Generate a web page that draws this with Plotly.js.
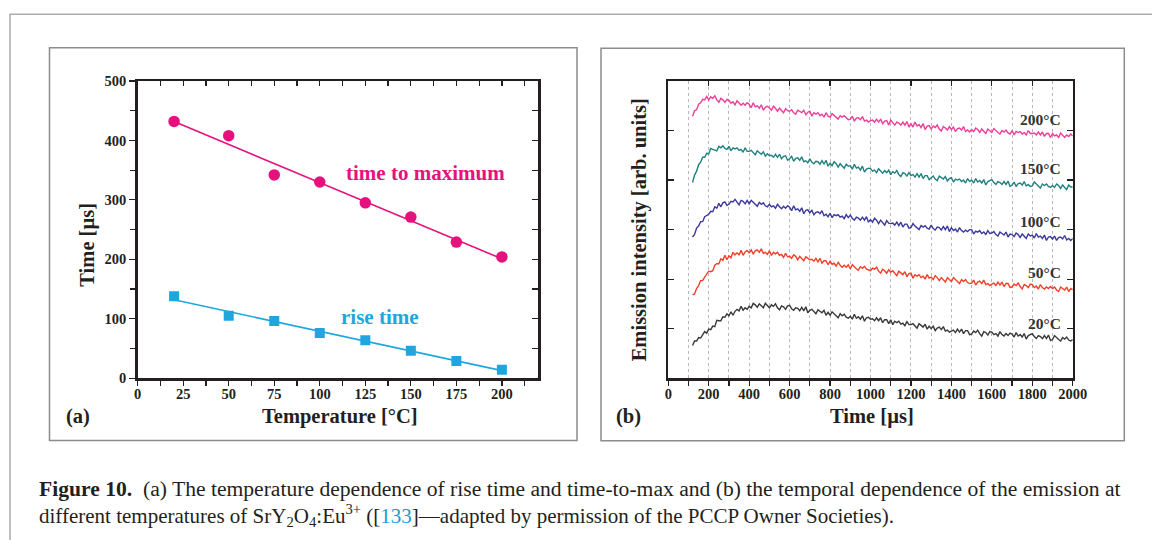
<!DOCTYPE html>
<html>
<head>
<meta charset="utf-8">
<script src="https://cdn.plot.ly/plotly-3.0.1.min.js"></script>
<style>
  html, body { margin: 0; padding: 0; background: #ffffff; }
  #fig { width: 1152px; height: 540px; }
</style>
</head>
<body>
<div id="fig"></div>
<script>
// ---------- (a) characteristic times versus temperature ----------
const temperatureC = [20, 50, 75, 100, 125, 150, 175, 200];
const timeToMaxUs  = [432, 408, 342, 330, 295, 271, 229, 204];
const riseTimeUs   = [138, 105, 96, 76, 64, 46, 29, 14];

// ---------- (b) emission transients, sampled every 10 µs from 120 µs ----------
const traceStartUs = 120;
const traceStepUs  = 10;

const emission20C = [
  0.66,0.75,0.75,0.82,0.81,0.88,0.94,0.91,
  0.99,0.98,1.05,1.04,1.17,1.16,1.16,1.24,1.23,1.30,
  1.26,1.34,1.27,1.35,1.39,1.36,1.45,1.37,1.42,1.39,
  1.45,1.42,1.51,1.48,1.43,1.50,1.46,1.42,1.51,1.46,
  1.42,1.48,1.45,1.50,1.42,1.38,1.46,1.44,1.39,1.46,
  1.47,1.40,1.37,1.42,1.41,1.36,1.43,1.36,1.44,1.32,
  1.37,1.39,1.34,1.30,1.38,1.35,1.32,1.37,1.27,1.33,
  1.27,1.34,1.30,1.26,1.22,1.30,1.26,1.29,1.23,1.21,
  1.25,1.19,1.29,1.21,1.24,1.19,1.26,1.15,1.22,1.23,
  1.19,1.20,1.16,1.22,1.16,1.22,1.12,1.18,1.18,1.10,
  1.18,1.08,1.15,1.12,1.15,1.09,1.11,1.06,1.14,1.08,
  1.08,1.10,1.05,1.01,1.10,1.06,1.03,1.09,0.99,1.05,
  1.00,1.05,0.96,1.01,1.03,0.98,1.04,0.95,0.97,0.93,
  0.95,0.97,0.92,0.99,0.93,0.99,0.90,0.96,0.96,0.88,
  0.89,0.95,0.92,0.97,0.90,0.85,0.94,0.92,0.87,0.94,
  0.93,0.88,0.90,0.85,0.94,0.88,0.85,0.90,0.86,0.91,
  0.89,0.83,0.92,0.85,0.88,0.83,0.90,0.79,0.86,0.88,
  0.90,0.84,0.80,0.86,0.84,0.80,0.86,0.80,0.87,0.76,
  0.78,0.86,0.81,0.78,0.75,0.82,0.79,0.83,0.77,0.75,
  0.78
];

const emission50C = [
  1.68,1.70,1.81,1.87,1.97,1.97,2.04,2.10,
  2.16,2.15,2.17,2.28,2.31,2.31,2.41,2.38,2.48,2.39,
  2.47,2.43,2.54,2.49,2.53,2.49,2.58,2.48,2.55,2.58,
  2.53,2.59,2.51,2.57,2.59,2.54,2.61,2.52,2.54,2.50,
  2.57,2.48,2.54,2.51,2.54,2.48,2.50,2.44,2.52,2.45,
  2.46,2.42,2.49,2.46,2.39,2.46,2.41,2.37,2.45,2.41,
  2.39,2.40,2.36,2.42,2.35,2.42,2.32,2.37,2.37,2.29,
  2.36,2.30,2.32,2.26,2.34,2.28,2.24,2.28,2.24,2.29,
  2.21,2.29,2.24,2.21,2.18,2.25,2.22,2.26,2.20,2.18,
  2.17,2.22,2.20,2.24,2.16,2.12,2.20,2.17,2.12,2.19,
  2.14,2.17,2.11,2.07,2.16,2.12,2.09,2.15,2.05,2.11,
  2.12,2.02,2.09,2.06,2.09,2.03,2.06,2.00,2.09,2.02,
  2.04,1.99,2.07,2.03,1.97,2.03,1.99,1.94,2.03,1.98,
  1.95,2.03,1.98,1.95,1.91,1.99,1.95,1.99,1.93,1.91,
  1.92,1.98,1.88,1.94,1.96,1.91,1.98,1.89,1.91,1.87,
  1.90,1.92,1.87,1.94,1.88,1.94,1.85,1.91,1.91,1.83,
  1.84,1.90,1.87,1.92,1.85,1.80,1.89,1.87,1.83,1.90,
  1.89,1.83,1.86,1.80,1.89,1.83,1.80,1.84,1.81,1.85,
  1.81,1.84,1.78,1.75,1.84,1.81,1.78,1.84,1.75,1.81,
  1.79
];

const emission100C = [
  2.85,2.90,3.03,3.07,3.16,3.16,3.26,3.29,
  3.31,3.37,3.36,3.46,3.43,3.53,3.46,3.54,3.56,3.49,
  3.51,3.57,3.56,3.61,3.54,3.50,3.59,3.57,3.52,3.59,
  3.52,3.59,3.55,3.51,3.47,3.55,3.51,3.54,3.48,3.46,
  3.51,3.46,3.48,3.43,3.51,3.46,3.42,3.47,3.43,3.48,
  3.45,3.38,3.48,3.40,3.42,3.37,3.44,3.32,3.39,3.40,
  3.34,3.39,3.30,3.35,3.36,3.32,3.38,3.28,3.31,3.26,
  3.33,3.24,3.30,3.28,3.30,3.25,3.27,3.22,3.30,3.24,
  3.29,3.23,3.19,3.25,3.23,3.19,3.25,3.19,3.26,3.15,
  3.20,3.15,3.23,3.19,3.12,3.19,3.14,3.09,3.18,3.13,
  3.12,3.13,3.09,3.15,3.08,3.15,3.05,3.11,3.11,3.03,
  3.04,3.12,3.07,3.04,3.00,3.08,3.05,3.08,3.03,3.01,
  3.09,3.02,2.99,3.05,3.04,2.99,3.06,3.00,3.07,2.96,
  3.04,2.98,3.01,2.95,3.04,2.98,2.95,2.99,2.96,3.00,
  3.00,2.91,2.97,2.95,2.98,2.92,2.95,2.90,2.98,2.92,
  2.93,2.96,2.90,2.87,2.95,2.92,2.89,2.95,2.85,2.91,
  2.90,2.86,2.93,2.90,2.84,2.91,2.87,2.82,2.91,2.87,
  2.89,2.83,2.92,2.85,2.87,2.82,2.89,2.78,2.85,2.86,
  2.81,2.87,2.78,2.84,2.85,2.81,2.88,2.79,2.82,2.78,
  2.82
];

const emission150C = [
  3.95,4.10,4.18,4.31,4.36,4.46,4.46,4.54,
  4.53,4.64,4.62,4.61,4.59,4.68,4.65,4.69,4.64,4.62,
  4.68,4.59,4.65,4.63,4.65,4.60,4.62,4.56,4.65,4.58,
  4.58,4.60,4.55,4.51,4.59,4.55,4.52,4.57,4.48,4.53,
  4.49,4.50,4.46,4.52,4.46,4.52,4.43,4.48,4.49,4.40,
  4.43,4.48,4.38,4.44,4.45,4.40,4.47,4.37,4.39,4.35,
  4.43,4.36,4.33,4.38,4.37,4.32,4.39,4.32,4.40,4.28,
  4.34,4.29,4.37,4.33,4.26,4.33,4.28,4.24,4.32,4.28,
  4.29,4.22,4.32,4.24,4.26,4.20,4.28,4.16,4.22,4.24,
  4.23,4.18,4.20,4.15,4.23,4.18,4.14,4.19,4.15,4.20,
  4.11,4.17,4.14,4.19,4.11,4.07,4.15,4.13,4.08,4.15,
  4.09,4.11,4.06,4.13,4.06,4.13,4.03,4.09,4.09,4.01,
  4.05,4.08,4.02,3.99,4.08,4.04,4.02,4.07,3.98,4.03,
  4.05,3.96,4.02,4.00,4.02,3.97,4.00,3.94,4.03,3.97,
  4.00,3.94,4.03,3.96,3.99,3.94,4.01,3.90,3.97,3.99,
  4.01,3.95,3.91,3.97,3.95,3.91,3.97,3.91,3.98,3.87,
  3.90,3.96,3.87,3.93,3.94,3.90,3.97,3.88,3.91,3.87,
  3.88,3.96,3.91,3.88,3.84,3.92,3.89,3.92,3.87,3.85,
  3.89,3.85,3.92,3.89,3.83,3.90,3.85,3.81,3.90,3.86,
  3.86
];

const emission200C = [
  5.29,5.40,5.42,5.53,5.56,5.63,5.62,5.69,
  5.62,5.68,5.65,5.70,5.62,5.57,5.65,5.62,5.57,5.63,
  5.61,5.55,5.58,5.52,5.60,5.55,5.51,5.55,5.51,5.56,
  5.53,5.46,5.56,5.48,5.50,5.45,5.52,5.41,5.47,5.49,
  5.46,5.41,5.49,5.45,5.39,5.45,5.40,5.36,5.44,5.40,
  5.39,5.42,5.36,5.33,5.41,5.38,5.36,5.41,5.32,5.37,
  5.39,5.29,5.36,5.33,5.36,5.30,5.33,5.27,5.36,5.29,
  5.27,5.34,5.30,5.26,5.23,5.30,5.27,5.30,5.25,5.22,
  5.23,5.29,5.19,5.25,5.26,5.22,5.28,5.19,5.21,5.17,
  5.20,5.21,5.17,5.23,5.17,5.23,5.14,5.19,5.20,5.11,
  5.21,5.15,5.11,5.17,5.15,5.11,5.17,5.11,5.18,5.07,
  5.14,5.07,5.17,5.09,5.12,5.06,5.14,5.02,5.09,5.10,
  5.03,5.09,5.06,5.11,5.03,4.99,5.08,5.05,5.01,5.08,
  5.02,5.07,4.98,5.04,5.05,5.01,5.08,4.98,5.01,4.97,
  5.02,4.98,5.05,5.02,4.96,5.03,4.99,4.94,5.03,4.99,
  4.96,5.04,4.99,4.96,4.93,5.00,4.97,5.01,4.95,4.93,
  5.00,4.91,4.98,4.96,4.98,4.93,4.96,4.91,5.00,4.94,
  4.94,4.95,4.91,4.97,4.91,4.97,4.88,4.94,4.94,4.86,
  4.94,4.89,4.91,4.86,4.95,4.90,4.86,4.91,4.88,4.93,
  4.89
];

const curveLabels = ['20°C', '50°C', '100°C', '150°C', '200°C'];

// ---------- styling ----------
const SERIF   = '"Liberation Serif", "DejaVu Serif", serif';
const INK     = '#231f20';
const MAGENTA = '#e5127d';
const CYAN    = '#1fa6df';
const CURVE_COLORS = ['#3a3a3a', '#f0402a', '#3b399c', '#21807f', '#ee3e98'];
const W = 1152, H = 540;
const px = v => v / W;          // page x pixel -> paper
const py = v => 1 - v / H;      // page y pixel -> paper

// least-squares straight line through a series
function linearFit(xs, ys) {
  const n = xs.length;
  const mx = xs.reduce((a, b) => a + b, 0) / n;
  const my = ys.reduce((a, b) => a + b, 0) / n;
  let sxy = 0, sxx = 0;
  for (let i = 0; i < n; i++) { sxy += (xs[i] - mx) * (ys[i] - my); sxx += (xs[i] - mx) ** 2; }
  const slope = sxy / sxx;
  const xEnds = [Math.min(...xs), Math.max(...xs)];
  return { x: xEnds, y: xEnds.map(x => my + slope * (x - mx)) };
}

const fitMax  = linearFit(temperatureC, timeToMaxUs);
const fitRise = linearFit(temperatureC, riseTimeUs);

const traces = [
  // carriers for the inner tick rows on the top/right edges
  { x: [], y: [], xaxis: 'x3', yaxis: 'y',  type: 'scatter', hoverinfo: 'skip' },
  { x: [], y: [], xaxis: 'x',  yaxis: 'y3', type: 'scatter', hoverinfo: 'skip' },
  { x: [], y: [], xaxis: 'x4', yaxis: 'y2', type: 'scatter', hoverinfo: 'skip' },

  { x: fitMax.x, y: fitMax.y, mode: 'lines', line: { color: MAGENTA, width: 1.6 }, xaxis: 'x', yaxis: 'y' },
  { x: temperatureC, y: timeToMaxUs, mode: 'markers', name: 'time to maximum',
    marker: { symbol: 'circle', size: 11.5, color: MAGENTA }, xaxis: 'x', yaxis: 'y' },
  { x: fitRise.x, y: fitRise.y, mode: 'lines', line: { color: CYAN, width: 1.6 }, xaxis: 'x', yaxis: 'y' },
  { x: temperatureC, y: riseTimeUs, mode: 'markers', name: 'rise time',
    marker: { symbol: 'square', size: 10, color: CYAN }, xaxis: 'x', yaxis: 'y' }
];

const emissionSeries = [emission20C, emission50C, emission100C, emission150C, emission200C];
emissionSeries.forEach((ys, i) => {
  traces.push({
    y: ys, x0: traceStartUs, dx: traceStepUs, mode: 'lines', name: curveLabels[i],
    line: { color: CURVE_COLORS[i], width: 1.4 }, xaxis: 'x2', yaxis: 'y2'
  });
});

const tickFont = { family: SERIF, size: 14.5, color: INK, weight: 'bold' };
const frame = { showline: true, linewidth: 2.5, linecolor: INK, mirror: true, zeroline: false };
const innerOnly = { showticklabels: false, showline: false, showgrid: false, zeroline: false,
                    ticks: 'inside', tickcolor: INK, tickwidth: 1.2 };

const Y_DOMAIN = [0.2997, 0.85];

// centred text placed by page pixel position
function pageText(x, y, text, size, color, extra) {
  return Object.assign({
    xref: 'paper', yref: 'paper', x: px(x), y: py(y), xanchor: 'center', yanchor: 'middle',
    text: text, showarrow: false, font: { family: SERIF, size: size, color: color, weight: 'bold' }
  }, extra || {});
}

const layout = {
  width: W, height: H,
  margin: { l: 0, r: 0, t: 0, b: 0 },
  paper_bgcolor: '#ffffff', plot_bgcolor: 'rgba(0,0,0,0)',
  showlegend: false,
  font: { family: SERIF, color: INK },

  xaxis: Object.assign({}, frame, {
    domain: [0.1195, 0.4673], anchor: 'y', range: [0, 220],
    tickmode: 'linear', tick0: 0, dtick: 25, ticks: 'outside', ticklen: 5, tickwidth: 1.2, tickcolor: INK,
    minor: { dtick: 12.5, ticks: 'outside', ticklen: 5, tickwidth: 1.2, tickcolor: INK, showgrid: false },
    showgrid: false, tickfont: tickFont, ticklabelstandoff: -4
  }),
  yaxis: Object.assign({}, frame, {
    domain: Y_DOMAIN, anchor: 'x', range: [0, 500],
    tickmode: 'linear', tick0: 0, dtick: 100, ticks: 'outside', ticklen: 6, tickwidth: 1.2, tickcolor: INK,
    minor: { dtick: 50, ticks: 'outside', ticklen: 5, tickwidth: 1.2, tickcolor: INK, showgrid: false },
    showgrid: false, tickfont: tickFont
  }),
  xaxis3: Object.assign({}, innerOnly, {
    overlaying: 'x', side: 'top', anchor: 'y', range: [0, 220],
    tickmode: 'linear', tick0: 0, dtick: 12.5, ticklen: 5
  }),
  yaxis3: Object.assign({}, innerOnly, {
    overlaying: 'y', side: 'right', anchor: 'x', range: [0, 500],
    tickmode: 'linear', tick0: 0, dtick: 50, ticklen: 6
  }),

  xaxis2: Object.assign({}, frame, {
    domain: [0.5801, 0.9312], anchor: 'y2', range: [0, 2000],
    tickmode: 'linear', tick0: 0, dtick: 200, ticks: 'outside', ticklen: 5, tickwidth: 1.2, tickcolor: INK,
    showgrid: true, gridcolor: '#b8b8b8', griddash: 'dot', gridwidth: 1,
    minor: { dtick: 100, ticks: 'outside', ticklen: 5, tickwidth: 1.2, tickcolor: INK,
             showgrid: true, gridcolor: '#b8b8b8', griddash: 'dot', gridwidth: 1 },
    tickfont: tickFont, ticklabelstandoff: -4
  }),
  yaxis2: {
    domain: Y_DOMAIN, anchor: 'x2', range: [0, 6],
    showline: true, linewidth: 2.5, linecolor: INK, mirror: 'ticks', zeroline: false,
    tickmode: 'linear', tick0: 0, dtick: 1, ticks: 'inside', ticklen: 6, tickwidth: 1.2, tickcolor: INK,
    showticklabels: false, showgrid: false
  },
  xaxis4: Object.assign({}, innerOnly, {
    overlaying: 'x2', side: 'top', anchor: 'y2', range: [0, 2000],
    tickmode: 'linear', tick0: 0, dtick: 200, ticklen: 5
  }),

  shapes: [
    // page rule and panel boxes
    { type: 'path', xref: 'paper', yref: 'paper',
      path: `M ${px(10)} ${py(540)} L ${px(10)} ${py(14.3)} L ${px(1152)} ${py(14.3)}`,
      line: { color: '#ababab', width: 1.5 } },
    { type: 'rect', xref: 'paper', yref: 'paper', x0: px(49.5), y0: py(440.5), x1: px(577), y1: py(47.8),
      line: { color: '#8c8c8c', width: 1.5 } },
    { type: 'rect', xref: 'paper', yref: 'paper', x0: px(601), y0: py(440.7), x1: px(1124.3), y1: py(48.2),
      line: { color: '#8c8c8c', width: 1.5 } }
  ],

  annotations: [
    // panel (a)
    pageText(86.7, 245, 'Time [µs]', 20.5, INK, { textangle: -90 }),
    pageText(340, 416.7, 'Temperature [°C]', 20.5, INK),
    pageText(78, 416, '(a)', 20.5, INK),
    { xref: 'x', yref: 'y', x: 158, y: 345, xanchor: 'center', yanchor: 'middle', text: 'time to maximum',
      showarrow: false, font: { family: SERIF, size: 21, color: MAGENTA, weight: 'bold' } },
    { xref: 'x', yref: 'y', x: 133, y: 103, xanchor: 'center', yanchor: 'middle', text: 'rise time',
      showarrow: false, font: { family: SERIF, size: 21, color: CYAN, weight: 'bold' } },

    // panel (b)
    pageText(639.3, 230, 'Emission intensity [arb. units]', 20.5, INK, { textangle: -90 }),
    pageText(871.7, 416.7, 'Time [µs]', 20.5, INK),
    pageText(628, 416, '(b)', 20.5, INK),

    // caption
    { xref: 'paper', yref: 'paper', x: px(37), y: py(489), xanchor: 'left', yanchor: 'middle', align: 'left',
      text: '<b>Figure 10.</b>\u00a0\u00a0(a) The temperature dependence of rise time and time-to-max and (b) the temporal dependence of the emission at',
      showarrow: false, font: { family: SERIF, size: 21.6, color: INK } },
    { xref: 'paper', yref: 'paper', x: px(37), y: py(515.5), xanchor: 'left', yanchor: 'middle', align: 'left',
      text: 'different temperatures of SrY<sub>2</sub>O<sub>4</sub>:Eu<sup>3+</sup> ([<span style="color:#1a9bd7">133</span>]—adapted by permission of the PCCP Owner Societies).',
      showarrow: false, font: { family: SERIF, size: 21, color: INK } }
  ]
};

// temperature labels at the right end of each transient
const labelY = [1.11, 2.13, 3.17, 4.23, 5.23];
curveLabels.forEach((t, i) => {
  layout.annotations.push({
    xref: 'x2', yref: 'y2', x: 1950, y: labelY[i], xanchor: 'right', yanchor: 'middle',
    text: t, showarrow: false, font: { family: SERIF, size: 15.5, color: '#333333', weight: 'bold' }
  });
});

Plotly.newPlot('fig', traces, layout, { displayModeBar: false, staticPlot: true });
</script>
</body>
</html>
